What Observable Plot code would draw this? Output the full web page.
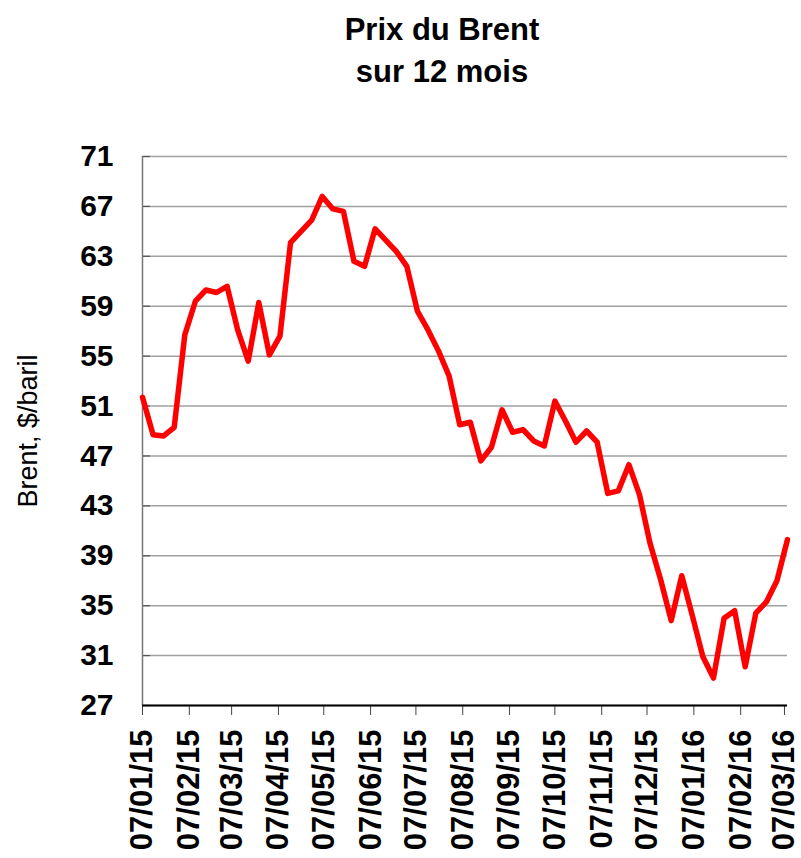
<!DOCTYPE html>
<html>
<head>
<meta charset="utf-8">
<script src="https://cdn.jsdelivr.net/npm/d3@7"></script>
<script src="https://cdn.jsdelivr.net/npm/@observablehq/plot@0.6"></script>
<style>
  body { margin: 0; background: #fff; font-family: "Liberation Sans", Arial, sans-serif; }
  #wrap { position: relative; width: 801px; }
  #title { position: relative; height: 100px; }
  #title div { position: absolute; left: 442px; transform: translateX(-50%); white-space: nowrap;
    font-weight: bold; font-size: 31px; line-height: 31px; color: #000; }
  #chart svg { display: block; }
</style>
</head>
<body>
<div id="wrap">
  <div id="title">
    <div style="top:14px">Prix du Brent</div>
    <div style="top:56px">sur 12 mois</div>
  </div>
  <div id="chart"></div>
</div>
<script>
const dates = [
  "07/01/15","14/01/15","21/01/15","28/01/15",
  "04/02/15","11/02/15","18/02/15","25/02/15",
  "04/03/15","11/03/15","18/03/15","25/03/15",
  "01/04/15","08/04/15","15/04/15","22/04/15","29/04/15",
  "06/05/15","13/05/15","20/05/15","27/05/15",
  "03/06/15","10/06/15","17/06/15","24/06/15",
  "01/07/15","08/07/15","15/07/15","22/07/15","29/07/15",
  "05/08/15","12/08/15","19/08/15","26/08/15",
  "02/09/15","09/09/15","16/09/15","23/09/15","30/09/15",
  "07/10/15","14/10/15","21/10/15","28/10/15",
  "04/11/15","11/11/15","18/11/15","25/11/15",
  "02/12/15","09/12/15","16/12/15","23/12/15","30/12/15",
  "06/01/16","13/01/16","20/01/16","27/01/16",
  "03/02/16","10/02/16","17/02/16","24/02/16",
  "02/03/16","09/03/16"
];
const brent = [
  51.7, 48.7, 48.6, 49.3,
  56.7, 59.4, 60.3, 60.1,
  60.6, 57.1, 54.6, 59.3,
  55.1, 56.6, 64.1, 65.0, 65.9,
  67.8, 66.8, 66.6, 62.6,
  62.2, 65.2, 64.3, 63.4,
  62.2, 58.6, 57.1, 55.4, 53.4,
  49.5, 49.7, 46.6, 47.7,
  50.7, 48.9, 49.1, 48.2, 47.8,
  51.4, 49.8, 48.1, 49.0,
  48.1, 44.0, 44.2, 46.3,
  43.9, 40.0, 37.1, 33.8, 37.4,
  34.2, 30.9, 29.2, 34.0,
  34.6, 30.1, 34.4, 35.3,
  37.0, 40.3
];
const xTickLabels = ["07/01/15","07/02/15","07/03/15","07/04/15","07/05/15","07/06/15","07/07/15",
  "07/08/15","07/09/15","07/10/15","07/11/15","07/12/15","07/01/16","07/02/16","07/03/16"];
const yTicks = [27, 31, 35, 39, 43, 47, 51, 55, 59, 63, 67, 71];
const yLabel = "Brent, $/baril";

const parse = d3.utcParse("%d/%m/%y");
const fmt = d3.utcFormat("%d/%m/%y");
const data = dates.map((d, i) => ({date: parse(d), value: brent[i]}));
const xTicks = xTickLabels.map(parse);
const xStart = parse(dates[0]);
const xEnd = parse(dates[dates.length - 1]);

const FONT = '"Liberation Sans", Arial, sans-serif';

const chart = Plot.plot({
  width: 801,
  height: 758,
  marginTop: 56,
  marginBottom: 153,
  marginLeft: 142,
  marginRight: 14,
  style: {fontFamily: FONT, background: "#fff", overflow: "visible", color: "#000"},
  x: {type: "utc", domain: [xStart, xEnd]},
  y: {domain: [27, 71]},
  marks: [
    Plot.ruleY(yTicks, {stroke: "#a0a0a0", strokeWidth: 1.5}),
    Plot.tickY(yTicks, {stroke: "#555", strokeWidth: 1.2, insetRight: 637}),
    Plot.ruleX([xStart], {stroke: "#777", strokeWidth: 1.5}),
    Plot.axisY(yTicks, {tickSize: 0, tickPadding: 29, fontSize: 30, fontWeight: "bold", fill: "#000", label: null}),
    Plot.axisX(xTicks, {tickFormat: fmt, tickRotate: -90, tickSize: 10, tickPadding: 14,
      fontSize: 31, fontWeight: "bold", fill: "#000", stroke: "#444", label: null}),
    Plot.line(data, {x: "date", y: "value", stroke: "#ff0000", strokeWidth: 5.5}),
    Plot.ruleY([27], {stroke: "#000", strokeWidth: 1.8}),
    Plot.text([yLabel], {frameAnchor: "left", dx: -114, rotate: -90, fontSize: 27, fill: "#000", textAnchor: "middle"})
  ]
});
document.getElementById("chart").appendChild(chart);
</script>
</body>
</html>
